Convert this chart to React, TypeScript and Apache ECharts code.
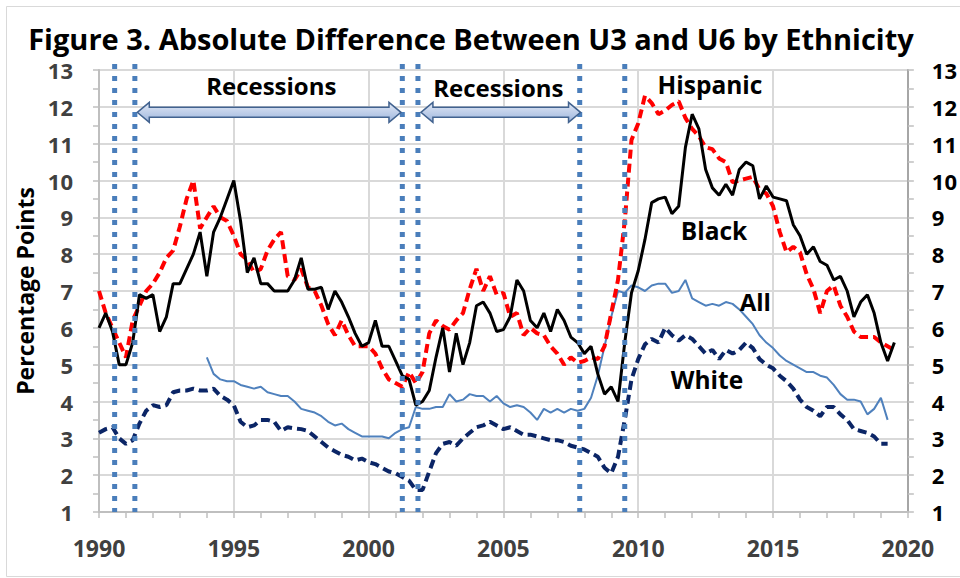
import React, { useEffect, useRef } from "react";
import * as echarts from "echarts";

// ---- data (quarterly readings, year = START + i * STEP) ----
const START = 1990;
const STEP = 0.25;
const ALL_START = 1994;

const hispanic = [
  7.0, 6.4, 6.0, 5.6, 5.2, 6.2, 6.6, 7.0, 7.2, 7.5, 7.9, 8.1, 8.75, 9.5, 10.0, 8.7,
  9.0, 9.3, 9.0, 8.9, 8.5, 8.0, 7.85, 7.5, 7.6, 8.1, 8.4, 8.6, 7.4, 7.3, 7.6, 7.1,
  7.0, 6.6, 6.1, 5.8, 6.2, 5.8, 5.5, 5.5, 5.5, 5.3, 4.9, 4.6, 4.5, 4.4, 4.8, 4.5,
  4.8, 5.85, 6.2, 6.05, 5.95, 6.2, 6.4, 7.05, 7.6, 7.0, 7.4, 6.9, 6.95, 6.3, 6.4, 5.8,
  6.0, 5.85, 5.8, 5.5, 5.3, 5.0, 5.2, 5.05, 5.1, 5.2, 5.15, 5.5, 6.4, 7.3, 8.9, 11.1,
  11.55, 12.3, 12.1, 11.8, 11.9, 12.05, 12.15, 11.7, 11.4, 11.2, 10.9, 10.85, 10.6, 10.5, 9.95, 10.0,
  10.05, 10.1, 9.75, 9.65, 9.3, 8.6, 8.05, 8.2, 8.05, 7.45, 7.05, 6.4, 7.0, 7.15, 6.6, 6.3,
  5.9, 5.75, 5.75, 5.75, 5.6, 5.5, 5.4,
];

const black = [
  6.0, 6.4, 5.9, 5.0, 5.0, 5.6, 6.9, 6.8, 6.9, 5.9, 6.3, 7.2, 7.2, 7.6, 8.0, 8.6,
  7.4, 8.6, 9.0, 9.5, 10.0, 8.9, 7.5, 7.9, 7.2, 7.2, 7.0, 7.0, 7.0, 7.3, 7.9, 7.05,
  7.05, 7.1, 6.5, 7.0, 6.7, 6.3, 5.85, 5.5, 5.6, 6.2, 5.5, 5.5, 5.1, 4.7, 4.6, 3.9,
  4.0, 4.3, 5.2, 6.0, 4.8, 5.85, 5.0, 5.6, 6.6, 6.7, 6.4, 5.9, 5.95, 6.3, 7.3, 7.0,
  6.2, 6.0, 6.4, 5.9, 6.5, 6.2, 5.75, 5.6, 5.3, 5.5, 4.75, 4.2, 4.4, 4.0, 5.6, 6.95,
  7.55, 8.4, 9.4, 9.5, 9.55, 9.1, 9.3, 10.9, 11.8, 11.4, 10.3, 9.8, 9.6, 9.9, 9.6, 10.3,
  10.5, 10.4, 9.5, 9.85, 9.55, 9.5, 9.45, 8.8, 8.5, 8.0, 8.2, 7.8, 7.7, 7.3, 7.4, 7.0,
  6.3, 6.7, 6.9, 6.4, 5.6, 5.1, 5.6,
];

const white = [
  3.15, 3.25, 3.3, 3.0, 2.85, 2.95, 3.4, 3.75, 3.9, 3.85, 3.9, 4.25, 4.3, 4.3, 4.35, 4.3,
  4.3, 4.35, 4.15, 4.05, 3.9, 3.45, 3.3, 3.35, 3.5, 3.5, 3.45, 3.2, 3.3, 3.27, 3.25, 3.2,
  3.05, 2.9, 2.75, 2.65, 2.55, 2.5, 2.4, 2.45, 2.35, 2.3, 2.2, 2.1, 2.05, 1.95, 1.85, 1.6,
  1.6, 2.1, 2.6, 2.85, 2.9, 2.8, 3.0, 3.15, 3.3, 3.35, 3.45, 3.35, 3.25, 3.3, 3.2, 3.1,
  3.1, 3.05, 3.0, 2.95, 2.95, 2.9, 2.8, 2.75, 2.7, 2.6, 2.5, 2.2, 2.05, 2.5, 3.5, 4.6,
  5.15, 5.55, 5.7, 5.6, 6.0, 5.8, 5.65, 5.8, 5.7, 5.5, 5.3, 5.4, 5.15, 5.4, 5.3, 5.4,
  5.6, 5.45, 5.15, 5.0, 4.9, 4.7, 4.55, 4.35, 4.05, 3.85, 3.75, 3.6, 3.85, 3.85, 3.65, 3.5,
  3.25, 3.2, 3.15, 3.05, 2.85, 2.85,
];

const all = [
  5.2, 4.75, 4.6, 4.55, 4.55, 4.45, 4.4, 4.35, 4.4, 4.25, 4.2, 4.15, 4.15, 4.0, 3.8, 3.75,
  3.7, 3.6, 3.45, 3.35, 3.4, 3.25, 3.15, 3.05, 3.05, 3.05, 3.05, 3.0, 3.15, 3.25, 3.3, 3.85,
  3.8, 3.8, 3.85, 3.85, 4.2, 4.0, 4.05, 4.2, 4.15, 4.15, 4.0, 4.15, 3.95, 3.85, 3.9, 3.85,
  3.7, 3.5, 3.8, 3.7, 3.8, 3.7, 3.8, 3.75, 3.8, 4.1, 4.7, 5.5, 6.3, 7.0, 6.95, 7.15,
  7.1, 7.0, 7.15, 7.2, 7.2, 6.95, 7.0, 7.3, 6.8, 6.7, 6.6, 6.65, 6.6, 6.7, 6.65, 6.5,
  6.3, 6.1, 5.8, 5.6, 5.45, 5.25, 5.1, 5.0, 4.9, 4.8, 4.8, 4.7, 4.65, 4.45, 4.2, 4.05,
  4.05, 4.0, 3.65, 3.8, 4.1, 3.5,
];

const recessionDates = [1990.58, 1991.33, 2001.25, 2001.83, 2007.83, 2009.5];
const xTicks = { min: 1990, max: 2020, interval: 5 };
const yTicks = { min: 1, max: 13, interval: 1 };

const FONT = "Open Sans";

const toPairs = (arr: number[], start: number) =>
  arr.map((v, i) => [start + i * STEP, v]);

export default function App() {
  const ref = useRef<HTMLDivElement>(null);

  useEffect(() => {
    document.body.style.margin = "0";
    if (!ref.current) return;
    const chart = echarts.init(ref.current, null, { renderer: "svg" });

    const yAxisCommon = {
      type: "value" as const,
      min: yTicks.min,
      max: yTicks.max,
      interval: yTicks.interval,
      axisLine: { show: true, lineStyle: { color: "#bfbfbf", width: 2 } },
      axisTick: { show: true, length: 6, lineStyle: { color: "#bfbfbf", width: 1.5 } },
      minorTick: { show: true, splitNumber: 2, length: 6, lineStyle: { color: "#bfbfbf", width: 1.5 } },
    };

    chart.setOption({
      animation: false,
      grid: { left: 99, right: 49, top: 70, bottom: 66 },
      xAxis: {
        type: "value",
        min: xTicks.min,
        max: xTicks.max,
        interval: xTicks.interval,
        axisLine: { show: true, lineStyle: { color: "#bfbfbf", width: 2 } },
        axisTick: { show: true, length: 6, lineStyle: { color: "#bfbfbf", width: 1.5 } },
        minorTick: { show: true, splitNumber: 5, length: 6, lineStyle: { color: "#bfbfbf", width: 1.5 } },
        splitLine: { show: true, lineStyle: { color: "#d9d9d9", width: 2 } },
        axisLabel: {
          fontFamily: FONT,
          fontWeight: "bold",
          fontSize: 23,
          color: "#404040",
          margin: 24,
          formatter: (v: number) => String(v),
        },
      },
      yAxis: [
        {
          ...yAxisCommon,
          position: "left",
          name: "Percentage Points",
          nameLocation: "middle",
          nameGap: 60,
          nameTextStyle: { fontFamily: FONT, fontWeight: "bold", fontSize: 23, color: "#000" },
          splitLine: { show: true, lineStyle: { color: "#d9d9d9", width: 2 } },
          axisLabel: { fontFamily: FONT, fontWeight: "bold", fontSize: 22, color: "#404040", margin: 26 },
        },
        {
          ...yAxisCommon,
          position: "right",
          splitLine: { show: false },
          axisLine: { show: true, lineStyle: { color: "#a6a6a6", width: 2 } },
          axisLabel: { fontFamily: FONT, fontWeight: "bold", fontSize: 22, color: "#000", margin: 24 },
        },
      ],
      series: [
        {
          name: "White",
          type: "line",
          data: toPairs(white, START),
          showSymbol: false,
          lineStyle: { color: "#0b2566", width: 4, type: [9, 5] },
        },
        {
          name: "All",
          type: "line",
          data: toPairs(all, ALL_START),
          showSymbol: false,
          lineStyle: { color: "#4f81bd", width: 2 },
        },
        {
          name: "Hispanic",
          type: "line",
          data: toPairs(hispanic, START),
          showSymbol: false,
          lineStyle: { color: "#ff0000", width: 4, type: [9, 5] },
        },
        {
          name: "Black",
          type: "line",
          data: toPairs(black, START),
          showSymbol: false,
          lineStyle: { color: "#000000", width: 3 },
        },
      ],
    });

    const px = (x: number, y: number) =>
      chart.convertToPixel({ xAxisIndex: 0, yAxisIndex: 0 }, [x, y]) as number[];

    const yTop = px(xTicks.min, yTicks.max)[1] - 6;
    const yBot = px(xTicks.min, yTicks.min)[1];

    const recessionLines = recessionDates.map((d) => {
      const x = px(d, yTicks.min)[0];
      return {
        type: "line",
        z: 100,
        shape: { x1: x, y1: yTop, x2: x, y2: yBot },
        style: { stroke: "#4a7ebb", lineWidth: 5, lineDash: [5, 7] },
      };
    });

    const arrow = (xa: number, xb: number, yv: number) => {
      const [x1, y] = px(xa, yv);
      const x2 = px(xb, yv)[0];
      const hl = 12, hh = 10, bh = 5;
      return {
        type: "polygon",
        z: 100,
        shape: {
          points: [
            [x1, y], [x1 + hl, y - hh], [x1 + hl, y - bh], [x2 - hl, y - bh], [x2 - hl, y - hh],
            [x2, y], [x2 - hl, y + hh], [x2 - hl, y + bh], [x1 + hl, y + bh], [x1 + hl, y + hh],
          ],
        },
        style: {
          fill: new echarts.graphic.LinearGradient(0, 0, 0, 1, [
            { offset: 0, color: "#e2e9f6" },
            { offset: 1, color: "#9db5dc" },
          ]),
          stroke: "#41628f",
          lineWidth: 1.5,
        },
      };
    };

    const label = (text: string, xv: number, yv: number, size: number) => {
      const [x, y] = px(xv, yv);
      return {
        type: "text",
        z: 110,
        x,
        y,
        style: {
          text,
          fontFamily: FONT,
          fontWeight: "bold",
          fontSize: size,
          fill: "#000",
          textAlign: "center",
          textVerticalAlign: "middle",
        },
      };
    };

    chart.setOption({
      graphic: [
        {
          type: "rect",
          z: 0,
          shape: { x: 6.5, y: 6.5, width: 960, height: 570 },
          style: { fill: "none", stroke: "#d9d9d9", lineWidth: 1 },
        },
        {
          type: "text",
          z: 110,
          x: 471,
          y: 38,
          style: {
            text: "Figure 3. Absolute Difference Between U3 and U6 by Ethnicity",
            fontFamily: FONT,
            fontWeight: "bold",
            fontSize: 29,
            fill: "#000",
            textAlign: "center",
            textVerticalAlign: "middle",
          },
        },
        ...recessionLines,
        arrow(1991.42, 2001.2, 11.85),
        arrow(2001.94, 2007.86, 11.85),
        label("Recessions", 1996.39, 12.57, 24),
        label("Recessions", 2004.81, 12.53, 24),
        label("Hispanic", 2012.66, 12.6, 24.5),
        label("Black", 2012.81, 8.63, 24.5),
        label("All", 2014.34, 6.71, 24),
        label("White", 2012.55, 4.59, 24.5),
      ],
    });

    return () => chart.dispose();
  }, []);

  return <div ref={ref} style={{ width: 960, height: 578 }} />;
}
